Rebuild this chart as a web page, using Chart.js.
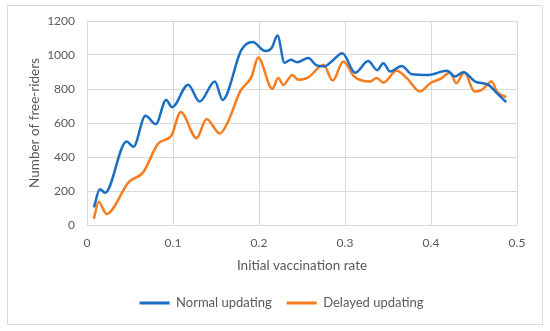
<!DOCTYPE html>
<html>
<head>
<meta charset="utf-8">
<script src="https://cdn.jsdelivr.net/npm/chart.js@4.4.1/dist/chart.umd.min.js"></script>
<style>
  html, body { margin: 0; padding: 0; background: #ffffff; }
  #wrap { position: absolute; left: 0; top: 0; width: 550px; height: 331px; }
</style>
</head>
<body>
<div id="wrap"><canvas id="c" width="550" height="331"></canvas></div>
<script>
// ---- Data ----
const seriesNames = ["Normal updating", "Delayed updating"];

const normalX = [0.008, 0.015, 0.021, 0.046, 0.054, 0.068, 0.080, 0.092, 0.099, 0.1176, 0.131, 0.1487, 0.1576, 0.1797, 0.1925, 0.2075, 0.2147, 0.2215, 0.2296, 0.237, 0.2442, 0.2573, 0.2665, 0.2760, 0.2845, 0.297, 0.3117, 0.327, 0.3375, 0.3446, 0.3524, 0.366, 0.3776, 0.397, 0.4184, 0.428, 0.4377, 0.4514, 0.4668, 0.4766, 0.4874];
const normalY = [104, 210, 190, 491, 461, 642, 593, 736, 693, 825, 726, 844, 736, 1031, 1076, 1023, 1041, 1114, 955, 972, 957, 982, 940, 932, 962, 1011, 896, 964, 911, 952, 903, 936, 887, 883, 907, 874, 899, 844, 824, 776, 723];

const delayedX = [0.008, 0.0136, 0.0226, 0.049, 0.065, 0.083, 0.098, 0.109, 0.1274, 0.139, 0.1545, 0.164, 0.178, 0.1914, 0.199, 0.2154, 0.2224, 0.2282, 0.2387, 0.2457, 0.2573, 0.275, 0.2857, 0.298, 0.311, 0.3292, 0.3369, 0.3446, 0.3602, 0.3718, 0.3873, 0.399, 0.4126, 0.4222, 0.4292, 0.4389, 0.4505, 0.4591, 0.4707, 0.4766, 0.4874];
const delayedY = [37, 137, 65, 255, 308, 480, 525, 665, 511, 624, 538, 608, 785, 873, 985, 801, 864, 824, 883, 854, 868, 942, 850, 962, 872, 844, 864, 838, 907, 864, 785, 834, 864, 899, 834, 899, 785, 795, 844, 785, 752];

const xTickLabels = ["0", "0.1", "0.2", "0.3", "0.4", "0.5"];
const yTickLabels = ["0", "200", "400", "600", "800", "1000", "1200"];

const xTitle = "Initial vaccination rate";
const yTitle = "Number of free-riders";

// ---- Styles ----
const BLUE = "#1a6ec4";
const ORANGE = "#f57d20";
const GRID = "#d9d9d9";
const TEXT = "#595959";
const FONT = "Lato, 'Open Sans', sans-serif";

function pts(xs, ys) { return xs.map((x, i) => ({ x: x, y: ys[i] })); }

const framePlugin = {
  id: "frame",
  beforeDraw(chart) {
    const ctx = chart.ctx;
    ctx.save();
    ctx.fillStyle = "#ffffff";
    ctx.fillRect(0, 0, chart.width, chart.height);
    ctx.strokeStyle = GRID;
    ctx.lineWidth = 1;
    ctx.strokeRect(7.5, 5.5, 535, 319);
    ctx.restore();
  }
};

// shift the legend so it sits centred under the frame like the reference
const legendShift = {
  id: "legendShift",
  afterLayout(chart) {
    const lg = chart.legend;
    if (!lg) return;
    const dx = 23, dy = -1.5;
    lg.left += dx; lg.right += dx;
    lg.top += dy; lg.bottom += dy;
  }
};

new Chart(document.getElementById("c"), {
  type: "scatter",
  data: {
    datasets: [
      {
        label: seriesNames[0],
        data: pts(normalX, normalY),
        showLine: true,
        borderColor: BLUE,
        backgroundColor: BLUE,
        borderWidth: 2.5,
        pointRadius: 0,
        pointHoverRadius: 0,
        cubicInterpolationMode: "monotone"
      },
      {
        label: seriesNames[1],
        data: pts(delayedX, delayedY),
        showLine: true,
        borderColor: ORANGE,
        backgroundColor: ORANGE,
        borderWidth: 2.5,
        pointRadius: 0,
        pointHoverRadius: 0,
        cubicInterpolationMode: "monotone"
      }
    ]
  },
  options: {
    responsive: false,
    animation: false,
    devicePixelRatio: 1,
    layout: { padding: { left: 0, right: 33, top: 21, bottom: 10 } },
    plugins: {
      tooltip: { enabled: false },
      legend: {
        position: "bottom",
        labels: {
          color: TEXT,
          font: { family: FONT, size: 13 },
          boxWidth: 30,
          boxHeight: 3,
          padding: 15,
          generateLabels(chart) {
            return chart.data.datasets.map((ds, i) => ({
              text: ds.label,
              fillStyle: ds.borderColor,
              strokeStyle: ds.borderColor,
              lineWidth: 0,
              fontColor: TEXT,
              hidden: false,
              datasetIndex: i
            }));
          }
        }
      }
    },
    scales: {
      x: {
        type: "linear",
        min: 0,
        max: 0.5,
        ticks: {
          stepSize: 0.1,
          color: TEXT,
          font: { family: FONT, size: 12 },
          padding: 11,
          maxRotation: 0,
          callback: (v) => { const i = Math.round(v * 10); return xTickLabels[i]; }
        },
        grid: { color: GRID, drawTicks: false, lineWidth: 1 },
        border: { color: GRID, width: 1 },
        title: {
          display: true,
          text: xTitle,
          color: TEXT,
          font: { family: FONT, size: 13.5 },
          padding: { top: 0, bottom: 9 }
        },
        afterFit(scale) { scale.height = 58; }
      },
      y: {
        type: "linear",
        min: 0,
        max: 1200,
        ticks: {
          stepSize: 200,
          color: TEXT,
          font: { family: FONT, size: 12 },
          padding: 12,
          callback: (v) => yTickLabels[Math.round(v / 200)]
        },
        grid: { color: GRID, drawTicks: false, lineWidth: 1 },
        border: { color: GRID, width: 1 },
        title: {
          display: true,
          text: yTitle,
          color: TEXT,
          font: { family: FONT, size: 13.5 },
          padding: { top: 27, bottom: 0 }
        },
        afterFit(scale) { scale.width = 87; }
      }
    }
  },
  plugins: [framePlugin, legendShift]
});
</script>
</body>
</html>
